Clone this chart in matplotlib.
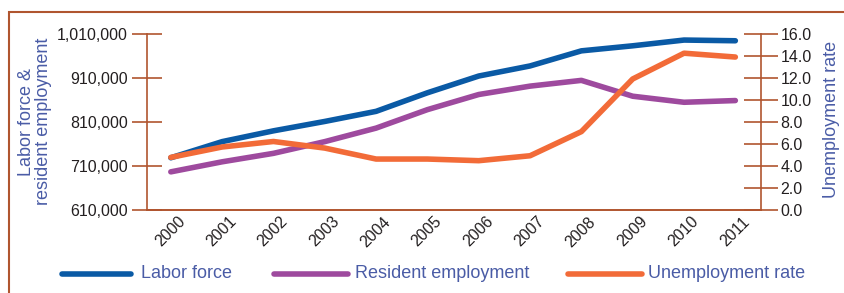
import numpy as np
import matplotlib.pyplot as plt
import matplotlib.transforms as mtransforms
from matplotlib.lines import Line2D
from matplotlib.patches import Rectangle

plt.rcParams['font.family'] = ['Liberation Sans', 'DejaVu Sans']

years = ['2000', '2001', '2002', '2003', '2004', '2005',
         '2006', '2007', '2008', '2009', '2010', '2011']
labor_force = [727900, 764700, 789300, 810700, 833700, 876000,
               914200, 937200, 971600, 983100, 996200, 994600]
resident_emp = [695800, 718700, 738000, 764700, 795500, 837600,
                872100, 891200, 904300, 868200, 854400, 858300]
unemp_rate = [4.75, 5.7, 6.2, 5.6, 4.6, 4.6,
              4.45, 4.9, 7.1, 11.9, 14.25, 13.9]

left_ticks = [610000, 710000, 810000, 910000, 1010000]
right_ticks = [0, 2, 4, 6, 8, 10, 12, 14, 16]

blue = '#0a5aa5'
purple = '#9e4a9e'
orange = '#f26b38'
frame = '#b0552f'
label_blue = '#4a5ca6'
txt = '#231f20'

fig = plt.figure(figsize=(8.45, 2.93), dpi=100)
ax = fig.add_axes([146.7 / 845, 1 - 209.5 / 293, (761 - 146.7) / 845, 175.5 / 293])
ax2 = ax.twinx()

x = np.arange(len(years))
ax.plot(x, labor_force, color=blue, lw=4, solid_capstyle='round')
ax.plot(x, resident_emp, color=purple, lw=4, solid_capstyle='round')
ax2.plot(x, unemp_rate, color=orange, lw=4, solid_capstyle='round')

ax.set_xlim(-0.47, 11.5)
ax.set_ylim(610000, 1010000)
ax2.set_ylim(0, 16)

ax.set_yticks(left_ticks)
ax.set_yticklabels([f'{v:,}' for v in left_ticks])
ax2.set_yticks(right_ticks)
ax2.set_yticklabels([f'{v:.1f}' for v in right_ticks])

ax.set_xticks(x)
ax.set_xticklabels(years, rotation=45, ha='right', va='center', rotation_mode='anchor')
ax.tick_params(axis='x', length=0, pad=7, labelsize=11.5, labelcolor=txt)
shift = mtransforms.ScaledTranslation(12 / 100, 0, fig.dpi_scale_trans)
for lab in ax.get_xticklabels():
    lab.set_transform(lab.get_transform() + shift)

ax.tick_params(axis='y', direction='inout', length=21, width=1.2, color=frame,
               labelsize=11.5, labelcolor=txt, pad=3)
ax2.tick_params(axis='y', direction='inout', length=24, width=1.2, color=frame,
                labelsize=11.5, labelcolor=txt, pad=2)

for a in (ax, ax2):
    a.spines['top'].set_visible(False)
    for s in ('left', 'right', 'bottom'):
        a.spines[s].set_color(frame)
        a.spines[s].set_linewidth(1.2)
ax.spines['right'].set_visible(False)
ax2.spines['left'].set_visible(False)

ax.set_ylabel('Labor force &\nresident employment', color=label_blue, fontsize=13,
              linespacing=1.0)
ax.yaxis.set_label_coords(-0.154, 0.5)
ax2.set_ylabel('Unemployment rate', color=label_blue, fontsize=13)
ax2.yaxis.set_label_coords(1.101, 0.515)

# outer frame of the panel
fig.add_artist(Rectangle((9.3 / 845, -0.2), 1.2, 1.2 - 12 / 293,
                         transform=fig.transFigure, fill=False,
                         edgecolor=frame, lw=1.5))

# legend
ly = 1 - 274 / 293
entries = [(62, 131, 141, 'Labor force', blue),
           (274, 348, 355, 'Resident employment', purple),
           (568, 642, 648, 'Unemployment rate', orange)]
for x0, x1, tx, name, c in entries:
    fig.add_artist(Line2D([x0 / 845, x1 / 845], [ly, ly], color=c, lw=4,
                          solid_capstyle='round', transform=fig.transFigure))
    fig.text(tx / 845, ly, name, color=label_blue, fontsize=13, va='center', ha='left')

fig.savefig('out.png', dpi=100)
